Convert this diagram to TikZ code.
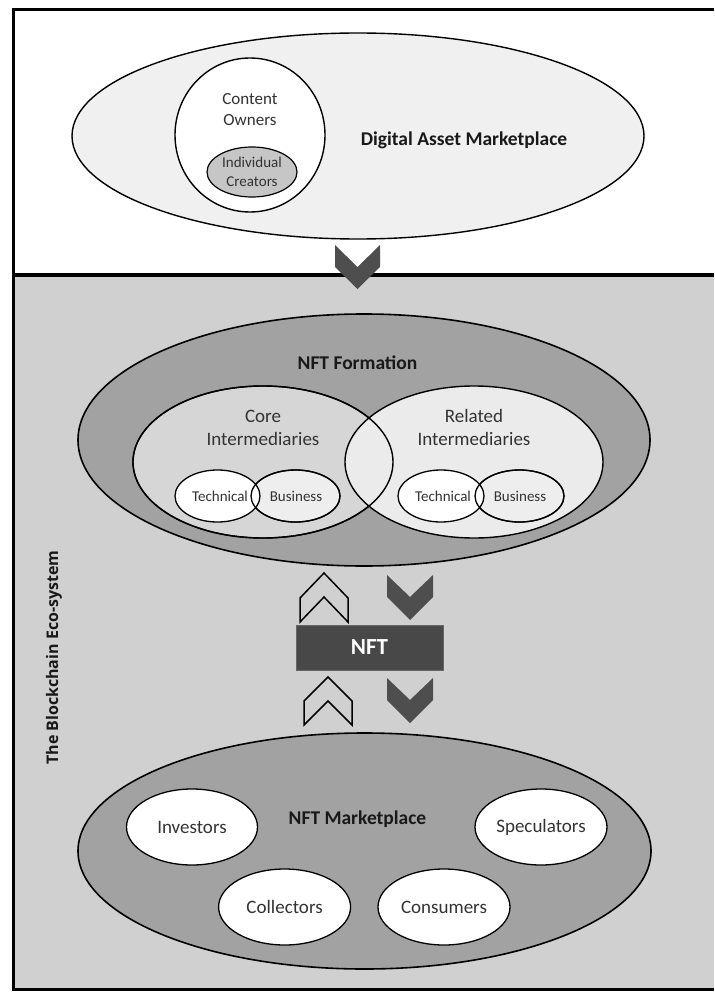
\documentclass[tikz,border=0pt]{standalone}
\usepackage{fontspec}
\setmainfont{Carlito}
\newfontfamily\labelfont{Open Sans}
\usetikzlibrary{shapes.geometric}
\definecolor{bglow}{HTML}{D0D0D0}
\definecolor{damfill}{HTML}{F0F0F0}
\definecolor{midgray}{HTML}{A2A2A2}
\definecolor{coregray}{HTML}{D6D6D6}
\definecolor{relgray}{HTML}{EBEBEB}
\definecolor{busgray}{HTML}{EEEEEE}
\definecolor{indgray}{HTML}{C6C6C6}
\definecolor{chevgray}{HTML}{4E4E4E}
\definecolor{boxgray}{HTML}{484848}
\definecolor{txtgray}{HTML}{333333}
\tikzset{
  ell/.style={ellipse, draw=black, line width=1.4pt, inner sep=0pt},
  txt/.style={align=center, text=txtgray, inner sep=0pt},
  ttl/.style={align=center, text=black!90, inner sep=0pt, font=\bfseries\fontsize{19.5}{22}\selectfont},
  chevfill/.style={fill=chevgray},
  chevline/.style={draw=black, line width=1.5pt, line join=miter},
}
\begin{document}
\begin{tikzpicture}[x=1pt,y=-1pt]
\useasboundingbox (0,0) rectangle (714,992);
\fill[white] (0,0) rectangle (714,992);
\fill[bglow] (13,275) rectangle (714,989);
\draw[line width=3pt] (714,10) -- (13,10) -- (13,989) -- (714,989);
\draw[line width=3.5pt] (13,275) -- (714,275);

% Digital asset marketplace
\node[ell, fill=damfill, minimum width=572pt, minimum height=206pt] (dam) at (358,136) {};
\node[ell, fill=white, minimum width=150pt, minimum height=154pt] (co) at (250,135) {};
\node[ell, fill=indgray, line width=1.2pt, minimum width=90pt, minimum height=50pt] (ic) at (252,172) {};
\node[txt, font=\fontsize{17}{21}\selectfont] (cot) at (250,110) {Content\\Owners};
\node[txt, font=\fontsize{15}{19}\selectfont] (ict) at (252,171.5) {Individual\\Creators};
\node[ttl] (damt) at (464,140) {Digital Asset Marketplace};

\fill[chevfill] (335,245) -- (357.5,267) -- (380,245) -- (380,267) -- (357.5,289) -- (335,267) -- cycle;

% NFT formation
\node[ell, fill=midgray, line width=1.6pt, minimum width=572pt, minimum height=252pt] (form) at (364,440) {};
\node[ell, fill=coregray, minimum width=260pt, minimum height=152pt] (core) at (263,462) {};
\node[ell, fill=relgray, minimum width=258pt, minimum height=152pt] (rel) at (474,462) {};
\node[ell, minimum width=260pt, minimum height=152pt] (core2) at (263,462) {};
\node[ttl] (formt) at (357.5,363) {NFT Formation};
\node[txt, font=\fontsize{19}{23}\selectfont] (coret) at (263,427.5) {Core\\Intermediaries};
\node[txt, font=\fontsize{19}{23}\selectfont] (relt) at (474,427.5) {Related\\Intermediaries};

\node[ell, fill=busgray, line width=1.3pt, minimum width=89pt, minimum height=52pt] (b1) at (295.5,496) {};
\node[ell, fill=white, line width=1.3pt, minimum width=85pt, minimum height=52pt] (t1) at (217.5,496) {};
\node[ell, line width=1.3pt, minimum width=89pt, minimum height=52pt] (b1o) at (295.5,496) {};
\node[ell, fill=busgray, line width=1.3pt, minimum width=89pt, minimum height=52pt] (b2) at (519.5,496) {};
\node[ell, fill=white, line width=1.3pt, minimum width=86pt, minimum height=52pt] (t2) at (441,496) {};
\node[ell, line width=1.3pt, minimum width=89pt, minimum height=52pt] (b2o) at (519.5,496) {};
\node[txt, font=\fontsize{15}{18}\selectfont] (t1t) at (220,496) {Technical};
\node[txt, font=\fontsize{15}{18}\selectfont] (b1t) at (296,496) {Business};
\node[txt, font=\fontsize{15}{18}\selectfont] (t2t) at (443,496) {Technical};
\node[txt, font=\fontsize{15}{18}\selectfont] (b2t) at (520,496) {Business};

% chevrons and NFT box
\draw[chevline] (300,622) -- (300,598) -- (324,573) -- (348,598) -- (348,622) -- (324,597) -- cycle;
\draw[chevline] (304,725) -- (304,701) -- (328,677) -- (352,701) -- (352,725) -- (328,701) -- cycle;
\fill[chevfill] (387,575) -- (410,597) -- (433,575) -- (433,597) -- (410,620) -- (387,597) -- cycle;
\fill[chevfill] (387,678) -- (410,700) -- (433,678) -- (433,700) -- (410,723) -- (387,700) -- cycle;
\node[fill=boxgray, draw=black!60, line width=0.6pt, minimum width=147pt, minimum height=45pt, inner sep=0pt, text=white, font=\bfseries\fontsize{23}{26}\selectfont] (nft) at (369.5,647.5) {NFT};

% NFT marketplace
\node[ell, fill=midgray, line width=1.6pt, minimum width=573pt, minimum height=236pt] (mkt) at (364.5,851) {};
\node[ttl] (mktt) at (357.5,819) {NFT Marketplace};
\node[ell, fill=white, line width=1.3pt, minimum width=131pt, minimum height=76pt, font=\fontsize{19}{22}\selectfont, text=txtgray] (inv) at (192,827) {Investors};
\node[ell, fill=white, line width=1.3pt, minimum width=132pt, minimum height=76pt, font=\fontsize{19}{22}\selectfont, text=txtgray] (spe) at (541,827) {Speculators};
\node[ell, fill=white, line width=1.3pt, minimum width=132pt, minimum height=76pt, font=\fontsize{19}{22}\selectfont, text=txtgray] (col) at (284.6,907) {Collectors};
\node[ell, fill=white, line width=1.3pt, minimum width=132pt, minimum height=76pt, font=\fontsize{19}{22}\selectfont, text=txtgray] (con) at (444,907) {Consumers};

\node[rotate=90, inner sep=0pt, text=black!90, font=\labelfont\bfseries\fontsize{16}{20}\selectfont] (eco) at (54,657.5) {The Blockchain Eco-system};
\end{tikzpicture}
\end{document}
